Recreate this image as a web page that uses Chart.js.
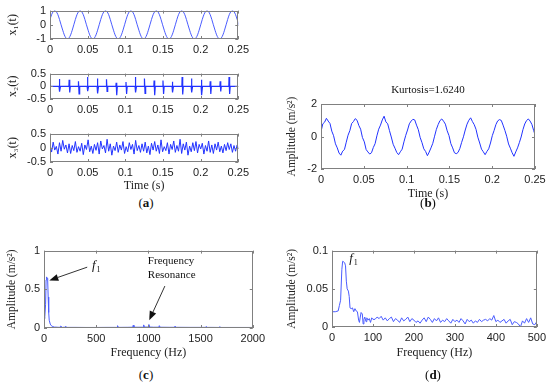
<!DOCTYPE html>
<html>
<head>
<meta charset="utf-8">
<script src="https://cdn.jsdelivr.net/npm/chart.js@4.4.1/dist/chart.umd.min.js"></script>
<style>
  body { margin: 0; background: #fff; }
  #fig { position: relative; width: 550px; height: 388px; overflow: hidden; }
  #fig canvas { position: absolute; }
  .tag { position: absolute; width: 40px; text-align: center; font: 13px "Liberation Serif", "Times New Roman", serif; color: #111; }
</style>
</head>
<body>
<div id="fig">
  <canvas id="a1" width="253" height="55" style="left:0;top:0"></canvas>
  <canvas id="a2" width="253" height="52" style="left:0;top:63px"></canvas>
  <canvas id="a3" width="253" height="70" style="left:0;top:123px"></canvas>
  <canvas id="pb" width="270" height="126" style="left:280px;top:75px"></canvas>
  <canvas id="pc" width="269" height="120" style="left:0;top:240px"></canvas>
  <canvas id="pd" width="270" height="120" style="left:280px;top:240px"></canvas>
  <div class="tag" style="left:126px;top:195px">(<b>a</b>)</div>
  <div class="tag" style="left:408px;top:195px">(<b>b</b>)</div>
  <div class="tag" style="left:126px;top:367px">(<b>c</b>)</div>
  <div class="tag" style="left:413px;top:367px">(<b>d</b>)</div>
</div>
<script>
// sample times (s), shared by x1, x3 and the measured signal
var tGrid = [0, 0.0021, 0.0042, 0.0063, 0.0084, 0.0105, 0.0126, 0.0147, 0.0169, 0.0190,
  0.0211, 0.0232, 0.0253, 0.0274, 0.0295, 0.0316, 0.0337, 0.0358, 0.0379, 0.0400,
  0.0421, 0.0442, 0.0463, 0.0484, 0.0506, 0.0527, 0.0548, 0.0569, 0.0590, 0.0611,
  0.0632, 0.0653, 0.0674, 0.0695, 0.0716, 0.0737, 0.0758, 0.0779, 0.0800, 0.0821,
  0.0843, 0.0864, 0.0885, 0.0906, 0.0927, 0.0948, 0.0969, 0.0990, 0.1011, 0.1032,
  0.1053, 0.1074, 0.1095, 0.1116, 0.1137, 0.1158, 0.1180, 0.1201, 0.1222, 0.1243,
  0.1264, 0.1285, 0.1306, 0.1327, 0.1348, 0.1369, 0.1390, 0.1411, 0.1432, 0.1453,
  0.1474, 0.1495, 0.1517, 0.1538, 0.1559, 0.1580, 0.1601, 0.1622, 0.1643, 0.1664,
  0.1685, 0.1706, 0.1727, 0.1748, 0.1769, 0.1790, 0.1811, 0.1832, 0.1854, 0.1875,
  0.1896, 0.1917, 0.1938, 0.1959, 0.1980, 0.2001, 0.2022, 0.2043, 0.2064, 0.2085,
  0.2106, 0.2127, 0.2148, 0.2169, 0.2191, 0.2212, 0.2233, 0.2254, 0.2275, 0.2296,
  0.2317, 0.2338, 0.2359, 0.2380, 0.2401, 0.2422, 0.2443, 0.2464, 0.2485, 0.2506];

// x1(t): shaft rotation component
var x1 = [0.38, 0.71, 0.92,
  1, 0.92, 0.71, 0.38, 0, -0.38, -0.71, -0.92, -1, -0.92, -0.71, -0.38, 0, 0.38, 0.71, 0.92,
  1, 0.92, 0.71, 0.38, 0, -0.38, -0.71, -0.92, -1, -0.92, -0.71, -0.38, 0, 0.38, 0.71, 0.92,
  1, 0.92, 0.71, 0.38, 0, -0.38, -0.71, -0.92, -1, -0.92, -0.71, -0.38, 0, 0.38, 0.71, 0.92,
  1, 0.92, 0.71, 0.38, 0, -0.38, -0.71, -0.92, -1, -0.92, -0.71, -0.38, 0, 0.38, 0.71, 0.92,
  1, 0.92, 0.71, 0.38, 0, -0.38, -0.71, -0.92, -1, -0.92, -0.71, -0.38, 0, 0.38, 0.71, 0.92,
  1, 0.92, 0.71, 0.38, 0, -0.38, -0.71, -0.92, -1, -0.92, -0.71, -0.38, 0, 0.38, 0.71, 0.92,
  1, 0.92, 0.71, 0.38, 0, -0.38, -0.71, -0.92, -1, -0.92, -0.71, -0.38, 0, 0.38, 0.71, 0.92,
  1, 0.92, 0.71, 0.38, 0];

// x2(t): impacts
var spikeT = [0.0123, 0.0254, 0.0378, 0.0496, 0.0628, 0.0750, 0.0878, 0.1009, 0.1132, 0.1254,
  0.1382, 0.1500, 0.1623, 0.1754, 0.1877, 0.2009, 0.2127, 0.2259, 0.2377];
var spikeUp = [0.29, 0.26, 0.20, 0.37, 0.31, 0.28, 0.14, 0.17, 0.37, 0.31,
  0.23, 0.23, 0.18, 0.37, 0.31, 0.26, 0.20, 0.20, 0.37];
var spikeDown = [-0.21, -0.24, -0.30, -0.19, -0.28, -0.20, -0.35, -0.30, -0.24, -0.28,
  -0.35, -0.30, -0.24, -0.32, -0.24, -0.35, -0.30, -0.20, -0.30];

// x3(t): noise
var x3 = [0.12, -0.15, 0.20, -0.08, 0.05, -0.22, 0.18, -0.12, 0.26, -0.05, 0.10, -0.18, 0.14, -0.20, 0.08, -0.10, 0.22, -0.16, 0.04, -0.12,
  0.16, -0.24, 0.10, -0.06, 0.28, -0.14, 0.06, -0.20, 0.12, -0.09, 0.18, -0.22, 0.24, -0.04, 0.08, -0.18, 0.30, -0.12, 0.14, -0.26,
  0.06, -0.10, 0.20, -0.16, 0.10, -0.08, 0.22, -0.20, 0.04, -0.14, 0.18, -0.06, 0.12, -0.22, 0.26, -0.10, 0.08, -0.16, 0.14, -0.12,
  0.20, -0.18, 0.06, -0.24, 0.16, -0.08, 0.22, -0.12, 0.10, -0.20, 0.28, -0.14, 0.04, -0.10, 0.18, -0.22, 0.12, -0.06, 0.24, -0.16,
  0.08, -0.12, 0.30, -0.20, 0.14, -0.08, 0.20, -0.26, 0.06, -0.14, 0.18, -0.10, 0.22, -0.18, 0.12, -0.04, 0.16, -0.22, 0.08, -0.12,
  0.24, -0.16, 0.10, -0.20, 0.14, -0.08, 0.20, -0.14, 0.06, -0.18, 0.12, -0.10, 0.18, -0.06, 0.14, -0.16, 0.08, -0.12, 0.10, -0.04];

// (b) measured signal, m/s^2
var sig = [0.30, 0.78, 0.88,
  1.12, 0.95, 0.80, 0.33, 0.05, -0.45, -0.70, -1.02, -1.15, -0.90, -0.80, -0.35, 0.08, 0.36, 0.80, 0.92,
  1.10, 1.00, 0.68, 0.45, -0.06, -0.33, -0.80, -0.95, -1.08, -1.00, -0.68, -0.44, 0.04, 0.45, 0.70, 1.02,
  1.25, 0.90, 0.78, 0.36, -0.03, -0.48, -0.72, -0.98, -1.12, -0.94, -0.78, -0.33, 0.07, 0.40, 0.78, 0.95,
  1.06, 1.02, 0.70, 0.42, -0.05, -0.38, -0.76, -0.92, -1.18, -0.96, -0.70, -0.42, 0.02, 0.44, 0.74, 0.98,
  1.08, 0.94, 0.76, 0.35, 0.06, -0.44, -0.70, -1.00, -1.06, -0.98, -0.74, -0.36, -0.02, 0.40, 0.76, 1.00,
  1.15, 0.92, 0.73, 0.44, -0.04, -0.40, -0.78, -0.94, -1.12, -0.92, -0.76, -0.40, 0.05, 0.37, 0.73, 0.96,
  1.04, 0.99, 0.70, 0.38, 0.02, -0.46, -0.72, -1.00, -1.22, -0.95, -0.70, -0.38, -0.03, 0.42, 0.77, 0.98,
  1.08, 0.95, 0.74, 0.36, 0.02];

// (c) spectrum 0-2000 Hz
var cFreq = [0, 8, 15, 20, 25, 30, 35, 40, 45, 50, 60, 70, 85, 100, 130, 150, 160, 175, 200, 210,
  220, 300, 400, 500, 600, 700, 705, 712, 800, 850, 855, 862, 900, 950, 955, 962, 1000, 1005, 1012, 1050,
  1100, 1105, 1112, 1200, 1250, 1255, 1262, 1400, 1500, 1550, 1555, 1562, 1600, 1680, 1685, 1692, 1800, 1900, 2000];
var cAmp = [0.12, 0.15, 0.3, 0.62, 0.66, 0.64, 0.63, 0.4, 0.2, 0.1, 0.05, 0.03, 0.018, 0.012, 0.01, 0.008, 0.025, 0.008, 0.01, 0.022,
  0.008, 0.008, 0.007, 0.007, 0.008, 0.008, 0.03, 0.008, 0.009, 0.01, 0.035, 0.01, 0.01, 0.01, 0.04, 0.012, 0.012, 0.045, 0.012, 0.01,
  0.01, 0.03, 0.01, 0.009, 0.009, 0.025, 0.009, 0.008, 0.008, 0.008, 0.02, 0.008, 0.008, 0.007, 0.018, 0.007, 0.007, 0.007, 0.007];

// (d) spectrum 0-500 Hz
var dFreq = [0, 1, 8, 15, 18, 21, 24, 26, 29, 31, 33, 35, 37, 40, 42, 44, 47, 50, 53, 56,
  59, 62, 65, 67, 69, 71, 74, 76, 78, 80, 83, 85, 88, 91, 94, 97, 100,
  105, 110, 115, 120, 125, 130, 135, 140, 145, 150, 155, 160, 165, 170, 175, 180, 185, 190, 195, 200,
  205, 210, 215, 220, 225, 230, 235, 240, 245, 250, 255, 260, 265, 270, 275, 280, 285, 290, 295, 300,
  305, 310, 315, 320, 325, 330, 335, 340, 345, 350, 355, 360, 365, 370, 375, 380, 385, 390, 395, 400,
  405, 410, 415, 420, 425, 430, 435, 440, 445, 450, 455, 460, 465, 470, 475, 480, 485, 490, 495, 500];
var dAmp = [0, 0.02, 0.02, 0.021, 0.028, 0.035, 0.075, 0.086, 0.085, 0.084, 0.08, 0.06, 0.05, 0.047, 0.04, 0.025, 0.024, 0.025, 0.02, 0.024,
  0.021, 0.02, 0.009, 0.006, 0.013, 0.019, 0.017, 0.004, 0.01, 0.013, 0.007, 0.012, 0.009, 0.011, 0.006, 0.012, 0.01,
  0.010, 0.013, 0.011, 0.014, 0.009, 0.012, 0.008, 0.011, 0.013, 0.007, 0.011, 0.009, 0.006, 0.012, 0.008, 0.010, 0.013, 0.007, 0.011, 0.009,
  0.006, 0.008, 0.005, 0.009, 0.012, 0.007, 0.013, 0.010, 0.006, 0.011, 0.008, 0.012, 0.006, 0.009, 0.007, 0.011, 0.008, 0.005, 0.010, 0.007,
  0.009, 0.006, 0.011, 0.008, 0.004, 0.010, 0.007, 0.009, 0.005, 0.008, 0.006, 0.010, 0.007, 0.009, 0.010, 0.008, 0.011, 0.009, 0.015, 0.007,
  0.009, 0.006, 0.008, 0.010, 0.005, 0.008, 0.010, 0.003, 0.007, 0.006, 0.004, 0.000, 0.008, 0.005, 0.011, 0.006, 0.012, 0.004, 0.003, 0.007];

// tick labels
var timeTicks = [0, 0.05, 0.1, 0.15, 0.2, 0.25];
var x1Ticks = [-1, 0, 1];
var x23Ticks = [-0.5, 0, 0.5];
var sigTicks = [-2, 0, 2];
var cFreqTicks = [0, 500, 1000, 1500, 2000];
var cAmpTicks = [0, 0.5, 1];
var dFreqTicks = [0, 100, 200, 300, 400, 500];
var dAmpTicks = [0, 0.05, 0.1];

var tickFont = { family: '"Liberation Sans", Arial, sans-serif', size: 11 };
var serif = '"Liberation Serif", "Times New Roman", serif';
var blue = '#2233ff';
var lightBlue = '#4a5cff';

function pts(xs, ys) {
  return xs.map(function (v, i) { return { x: v, y: ys[i] }; });
}

// spikes built from the read peak / trough of each impact
var x2Pts = [{ x: 0, y: 0 }];
spikeT.forEach(function (t, i) {
  x2Pts.push({ x: t - 0.0003, y: 0 }, { x: t, y: spikeUp[i] }, { x: t + 0.0008, y: spikeDown[i] }, { x: t + 0.0016, y: 0 });
});
x2Pts.push({ x: 0.25, y: 0 });

function drawArrow(ctx, x0, y0, x1, y1) {
  var ang = Math.atan2(y1 - y0, x1 - x0), L = 9, W = 3.5;
  ctx.beginPath();
  ctx.moveTo(x0, y0);
  ctx.lineTo(x1 - L * Math.cos(ang), y1 - L * Math.sin(ang));
  ctx.stroke();
  ctx.beginPath();
  ctx.moveTo(x1, y1);
  ctx.lineTo(x1 - L * Math.cos(ang) + W * Math.sin(ang), y1 - L * Math.sin(ang) - W * Math.cos(ang));
  ctx.lineTo(x1 - L * Math.cos(ang) - W * Math.sin(ang), y1 - L * Math.sin(ang) + W * Math.cos(ang));
  ctx.closePath();
  ctx.fill();
}

// MATLAB-like box with inward ticks, plus notes
var matBox = {
  id: 'matBox',
  afterDraw: function (chart, args, opts) {
    var ctx = chart.ctx, a = chart.chartArea, sx = chart.scales.x, sy = chart.scales.y;
    ctx.save();
    ctx.strokeStyle = '#808080';
    ctx.lineWidth = 1;
    ctx.strokeRect(Math.round(a.left) + 0.5, Math.round(a.top) + 0.5, Math.round(a.right - a.left) - 1, Math.round(a.bottom - a.top) - 1);
    ctx.beginPath();
    sx.ticks.forEach(function (t) {
      var p = Math.round(sx.getPixelForValue(t.value)) + 0.5;
      ctx.moveTo(p, a.bottom); ctx.lineTo(p, a.bottom - 3);
      ctx.moveTo(p, a.top); ctx.lineTo(p, a.top + 3);
    });
    sy.ticks.forEach(function (t) {
      var p = Math.round(sy.getPixelForValue(t.value)) + 0.5;
      ctx.moveTo(a.left, p); ctx.lineTo(a.left + 3, p);
      ctx.moveTo(a.right, p); ctx.lineTo(a.right - 3, p);
    });
    ctx.stroke();

    ctx.fillStyle = '#111';
    if (opts.title) {
      ctx.font = '11px ' + serif;
      ctx.textAlign = 'center';
      ctx.textBaseline = 'middle';
      ctx.fillText(opts.title, (a.left + a.right) / 2, a.top - 14);
    }
    ctx.strokeStyle = '#333';
    (opts.arrows || []).forEach(function (r) {
      drawArrow(ctx, sx.getPixelForValue(r[0]), sy.getPixelForValue(r[1]), sx.getPixelForValue(r[2]), sy.getPixelForValue(r[3]));
    });
    ctx.textAlign = 'left';
    ctx.textBaseline = 'alphabetic';
    (opts.notes || []).forEach(function (n) {
      var px = sx.getPixelForValue(n.x), py = sy.getPixelForValue(n.y);
      ctx.font = (n.italic ? 'italic ' : '') + (n.size || 11) + 'px ' + serif;
      ctx.fillText(n.text, px, py);
      if (n.sub) {
        var w = ctx.measureText(n.text).width;
        ctx.font = '8px ' + serif;
        ctx.fillText(n.sub, px + w + 1, py + 3);
      }
    });
    ctx.restore();
  }
};

function panel(id, datasets, o) {
  return new Chart(document.getElementById(id), {
    type: 'line',
    data: { datasets: datasets },
    options: {
      responsive: false,
      animation: false,
      devicePixelRatio: 1,
      layout: { padding: { left: o.padL, top: o.padT, right: o.padR, bottom: 0 } },
      elements: { point: { radius: 0 } },
      plugins: { legend: { display: false }, tooltip: { enabled: false }, matBox: o.box || {} },
      scales: {
        x: {
          type: 'linear', min: o.xMin, max: o.xMax,
          afterBuildTicks: function (s) { s.ticks = o.xTicks.map(function (v) { return { value: v }; }); },
          afterFit: function (s) { s.height = o.xH; },
          grid: { display: false, drawTicks: false },
          border: { display: false },
          ticks: { font: tickFont, color: '#222', padding: 4, maxRotation: 0, autoSkip: false, callback: function (v) { return String(v); } },
          title: { display: !!o.xTitle, text: o.xTitle, font: { family: serif, size: 12 }, color: '#222', padding: 0 }
        },
        y: {
          type: 'linear', min: o.yMin, max: o.yMax,
          afterBuildTicks: function (s) { s.ticks = o.yTicks.map(function (v) { return { value: v }; }); },
          afterFit: function (s) { s.width = o.yW; },
          grid: { display: false, drawTicks: false },
          border: { display: false },
          ticks: { font: tickFont, color: '#222', padding: 4, autoSkip: false, callback: function (v) { return String(v); } },
          title: { display: true, text: o.yTitle, font: { family: serif, size: o.yTitleSize || 11.5 }, color: '#222', padding: 0 }
        }
      }
    },
    plugins: [matBox]
  });
}

panel('a1', [{ data: pts(tGrid, x1), borderColor: lightBlue, borderWidth: 1, cubicInterpolationMode: 'monotone' }], {
  padL: 6, padT: 7, padR: 12, yW: 44, xH: 16, xMin: 0, xMax: 0.25, xTicks: timeTicks,
  yMin: -1, yMax: 1, yTicks: x1Ticks, yTitle: 'x\u2081(t)', yTitleSize: 12
});

panel('a2', [{ data: x2Pts, borderColor: blue, borderWidth: 1.2 }], {
  padL: 6, padT: 7, padR: 12, yW: 44, xH: 16, xMin: 0, xMax: 0.25, xTicks: timeTicks,
  yMin: -0.5, yMax: 0.5, yTicks: x23Ticks, yTitle: 'x\u2082(t)', yTitleSize: 12
});

panel('a3', [{ data: pts(tGrid, x3), borderColor: blue, borderWidth: 1 }], {
  padL: 6, padT: 7, padR: 12, yW: 44, xH: 31, xMin: 0, xMax: 0.25, xTicks: timeTicks,
  yMin: -0.5, yMax: 0.5, yTicks: x23Ticks, yTitle: 'x\u2083(t)', yTitleSize: 12, xTitle: 'Time (s)'
});

panel('pb', [{ data: pts(tGrid, sig), borderColor: blue, borderWidth: 1 }], {
  padL: 5, padT: 29, padR: 15, yW: 36, xH: 32, xMin: 0, xMax: 0.25, xTicks: timeTicks,
  yMin: -2, yMax: 2, yTicks: sigTicks, yTitle: 'Amplitude (m/s\u00b2)', xTitle: 'Time (s)',
  box: { title: 'Kurtosis=1.6240' }
});

panel('pc', [{ data: pts(cFreq, cAmp), borderColor: lightBlue, borderWidth: 1 }], {
  padL: 5, padT: 10, padR: 16, yW: 39, xH: 32, xMin: 0, xMax: 2000, xTicks: cFreqTicks,
  yMin: 0, yMax: 1, yTicks: cAmpTicks, yTitle: 'Amplitude (m/s\u00b2)', xTitle: 'Frequency (Hz)',
  box: {
    arrows: [[414, 0.786, 51, 0.615], [1158, 0.542, 1008, 0.10]],
    notes: [
      { text: 'f', sub: '1', italic: true, size: 13, x: 459, y: 0.756 },
      { text: 'Frequency', x: 995, y: 0.83 },
      { text: 'Resonance', x: 995, y: 0.65 }
    ]
  }
});

panel('pd', [{ data: pts(dFreq, dAmp), borderColor: lightBlue, borderWidth: 1 }], {
  padL: 5, padT: 10, padR: 13, yW: 47, xH: 33, xMin: 0, xMax: 500, xTicks: dFreqTicks,
  yMin: 0, yMax: 0.1, yTicks: dAmpTicks, yTitle: 'Amplitude (m/s\u00b2)', xTitle: 'Frequency (Hz)',
  box: { notes: [{ text: 'f', sub: '1', italic: true, size: 13, x: 42, y: 0.0845 }] }
});
</script>
</body>
</html>
